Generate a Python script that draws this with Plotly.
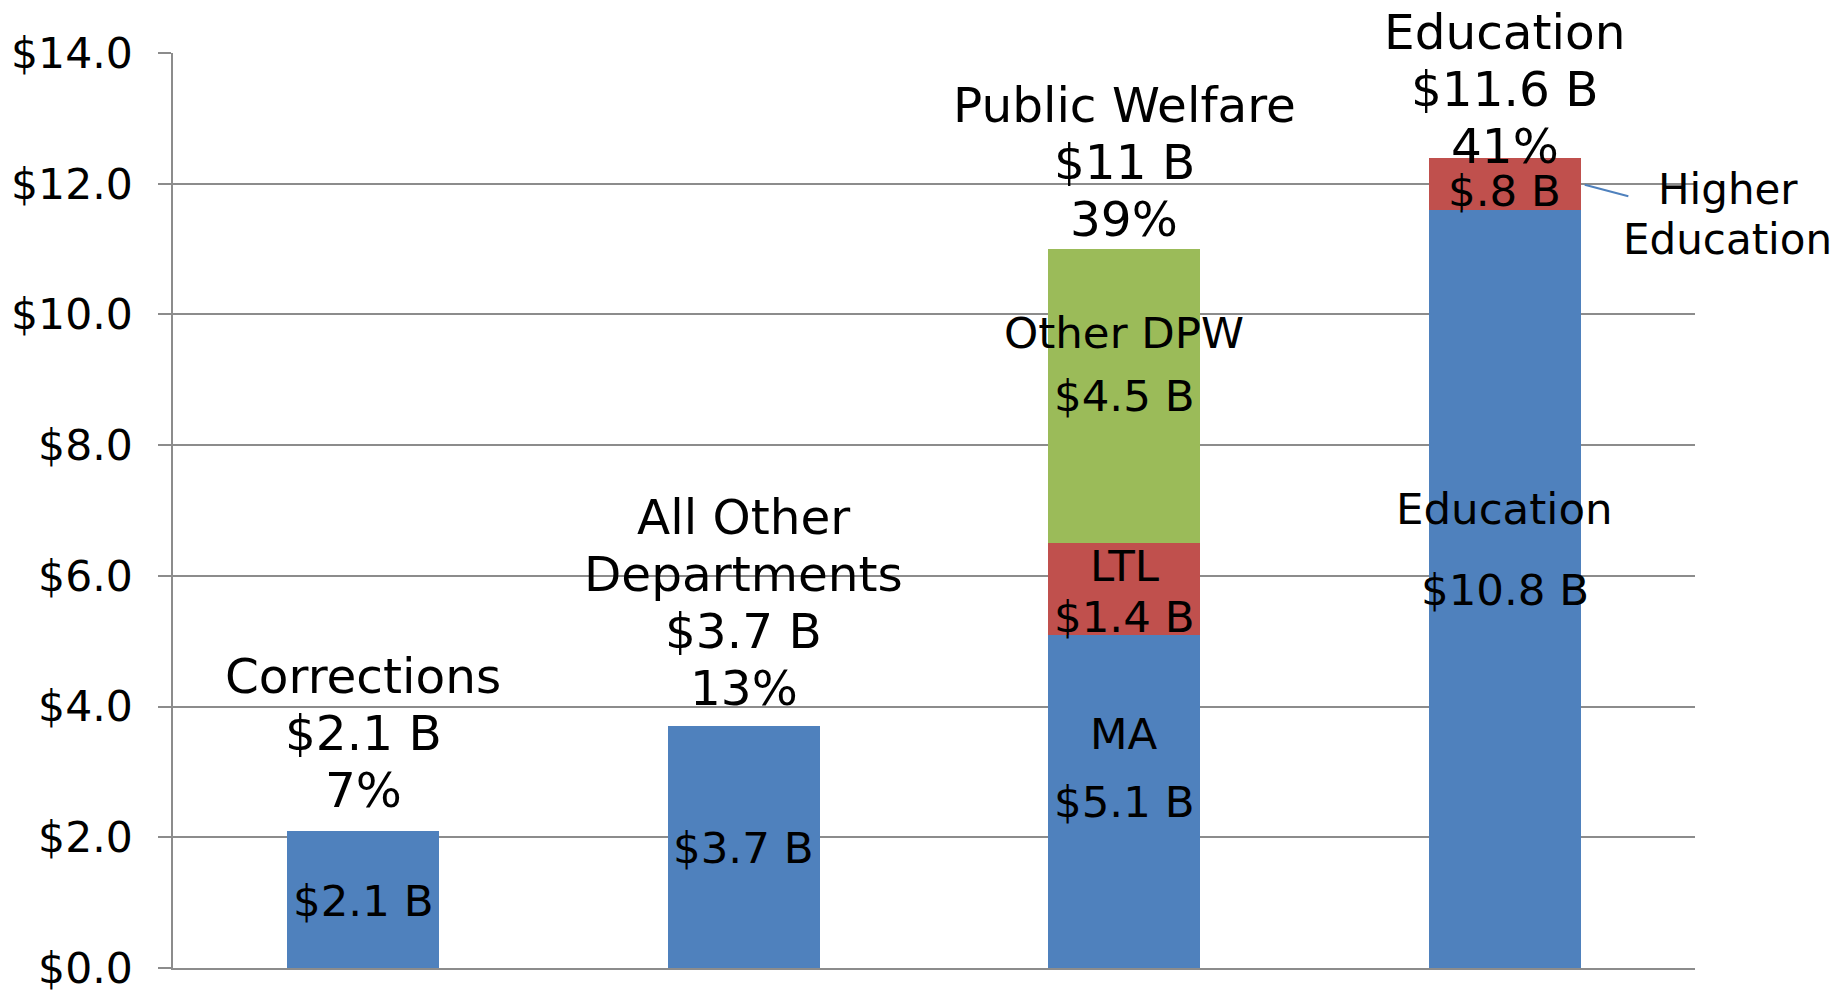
import plotly.graph_objects as go

# ---------------- data ----------------
categories = ["Corrections", "All Other Departments", "Public Welfare", "Education"]
base_values = [2.1, 3.7, 5.1, 11.6]      # blue segment
mid_values = [None, None, 1.4, 0.8]      # red segment (LTL / Higher Education)
upper_values = [None, None, 4.5, None]   # green segment (Other DPW)

top_label_lines = [
    ["Corrections", "$2.1 B", "7%"],
    ["All Other", "Departments", "$3.7 B", "13%"],
    ["Public Welfare", "$11 B", "39%"],
    ["Education", "$11.6 B", "41%"],
]
base_label_lines = [["$2.1 B"], ["$3.7 B"], ["MA", "$5.1 B"], ["Education", "$10.8 B"]]
mid_label_lines = [None, None, ["LTL", "$1.4 B"], ["$.8 B"]]
upper_label_lines = [None, None, ["Other DPW", "$4.5 B"], None]
side_label_lines = ["Higher", "Education"]

y_tick_values = [0, 2, 4, 6, 8, 10, 12, 14]
y_tick_text = ["$0.0", "$2.0", "$4.0", "$6.0", "$8.0", "$10.0", "$12.0", "$14.0"]

# ---------------- style ----------------
BLUE = "#4F81BD"
RED = "#C0504D"
GREEN = "#9BBB59"
GRID = "#8c8c8c"
FONT = "DejaVu Sans"
BARGAP = 0.6

fig = go.Figure()
for vals, col in [(base_values, BLUE), (mid_values, RED), (upper_values, GREEN)]:
    fig.add_trace(go.Bar(x=categories, y=vals, marker=dict(color=col, line=dict(width=0)),
                         showlegend=False, hoverinfo="skip"))


def cum(i, upto):
    parts = [base_values[i], mid_values[i], upper_values[i]][:upto]
    return sum(p for p in parts if p is not None)


def add_line(cat, anchor, base_off, text, size, xshift=0):
    """base_off: baseline position in px below the anchor value (positive = lower)."""
    d = 0.236 * size + 2
    fig.add_annotation(x=cat, y=anchor, xref="x", yref="y", text=text, showarrow=False,
                       yanchor="bottom", xanchor="center", yshift=-(base_off + d),
                       xshift=xshift, font=dict(family=FONT, size=size, color="black"))


# top labels: last baseline offset relative to top of stack
top_offsets = [-24, -22, -14, 5]
TOP_SIZE = 48.5
TOP_SPACING = 57
for i, lines in enumerate(top_label_lines):
    total = cum(i, 3)
    n = len(lines)
    for j, t in enumerate(lines):
        add_line(categories[i], total, top_offsets[i] - (n - 1 - j) * TOP_SPACING, t, TOP_SIZE)

IN_SIZE = 43.5
# inner label baseline offsets below segment top (px)
base_offsets = [[85], [137], [114, 182], [314, 395]]
mid_offsets = [None, None, [37.5, 88.5], [48]]
upper_offsets = [None, None, [99, 162], None]
for i in range(4):
    for lines, offs, level in [(base_label_lines[i], base_offsets[i], 1),
                               (mid_label_lines[i], mid_offsets[i], 2),
                               (upper_label_lines[i], upper_offsets[i], 3)]:
        if lines is None:
            continue
        top = cum(i, level)
        for t, o in zip(lines, offs):
            add_line(categories[i], top, o, t, IN_SIZE)

# Higher Education callout: leader line from the bar's right edge + two text lines
half_w = (1 - BARGAP) / 2
edge_x = 3 + half_w
fig.add_annotation(x=edge_x, y=12.0, xref="x", yref="y", text="",
                   showarrow=True, arrowhead=0, arrowwidth=2, arrowcolor=BLUE,
                   standoff=4, ax=49, ay=13, axref="pixel", ayref="pixel")
for t, o in zip(side_label_lines, [20, 70]):
    add_line(edge_x, 12.0, o, t, 42, xshift=147)

# page body has an 8px margin: plot area lands at x 173..1695, y 53..968 on screen
fig.update_layout(
    barmode="stack",
    bargap=BARGAP,
    width=1845, height=990,
    margin=dict(l=165, r=158, t=45, b=30),
    plot_bgcolor="white", paper_bgcolor="white",
    font=dict(family=FONT, color="black"),
    xaxis=dict(showticklabels=False, ticks="", showgrid=False, showline=True,
               linecolor=GRID, linewidth=1.5, range=[-0.5, 3.5], zeroline=False,
               automargin=False),
    yaxis=dict(range=[0, 14], tickvals=y_tick_values, ticktext=y_tick_text,
               showgrid=True, gridcolor=GRID, gridwidth=1.5,
               showline=True, linecolor=GRID, linewidth=1.5,
               ticks="outside", ticklen=13, tickcolor=GRID, tickwidth=1.5,
               tickfont=dict(family=FONT, size=42.5, color="black"),
               ticklabelstandoff=17, ticklabeloverflow="allow", zeroline=False,
               automargin=False),
)

fig.write_html("out.html")
